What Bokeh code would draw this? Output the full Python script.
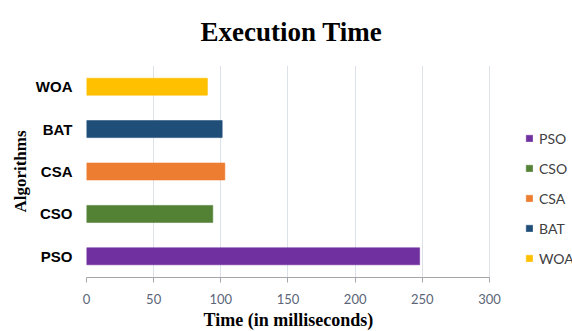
from bokeh.plotting import figure
from bokeh.models import Range1d, FactorRange, FixedTicker, Legend, LegendItem, ColumnDataSource, Title
from bokeh.embed import file_html
from bokeh.resources import INLINE

algorithms = ["PSO", "CSO", "CSA", "BAT", "WOA"]
times_ms = [248, 94, 103, 101, 90]
colors = ["#7030a0", "#548235", "#ed7d31", "#1f4e79", "#ffc000"]
x_ticks = [0, 50, 100, 150, 200, 250, 300]

# frame extends to the right edge so the legend can sit inside it
p = figure(width=572, height=331, output_backend="svg", toolbar_location=None,
           x_range=Range1d(0, 361.8), y_range=FactorRange(factors=algorithms, range_padding=0),
           min_border_left=86, min_border_right=0, min_border_top=65, min_border_bottom=53)
p.outline_line_color = None
p.background_fill_color = "white"
p.border_fill_color = "white"

p.title.text = "Execution Time"
p.title.align = "left"
p.title.offset = 114
p.title.vertical_align = "top"
p.title.text_font = "Liberation Serif"
p.title.text_font_size = "27px"
p.title.text_font_style = "bold"
p.title.text_color = "#000000"
p.title.standoff = 33

renderers = []
for a, t, c in zip(algorithms, times_ms, colors):
    src = ColumnDataSource(dict(y=[a], right=[t]))
    r = p.hbar(y="y", right="right", left=0, height=0.4, source=src,
               fill_color=c, line_color=c, line_alpha=0.6)
    renderers.append((a, r))

legend = Legend(items=[LegendItem(label=a, renderers=[r]) for a, r in renderers],
                location=(439, 9), orientation="vertical",
                glyph_width=8, glyph_height=8, label_standoff=6, spacing=10,
                padding=0, margin=0, border_line_color=None, background_fill_alpha=0,
                label_text_font="Lato", label_text_font_size="14px", label_text_color="#404040",
                label_height=20)
p.add_layout(legend, "center")

xa = p.xaxis[0]
xa.ticker = FixedTicker(ticks=x_ticks)
xa.bounds = (0, 300)
xa.axis_line_color = "#a6a6a6"
xa.major_tick_line_color = "#a6a6a6"
xa.major_tick_out = 5
xa.major_tick_in = 0
xa.minor_tick_line_color = None
xa.major_label_text_font = "Lato"
xa.major_label_text_font_size = "13px"
xa.major_label_text_color = "#5b6577"
xa.major_label_standoff = 11

xlabel = Title(text="Time (in milliseconds)", align="left", offset=117,
               text_font="Liberation Serif", text_font_style="bold",
               text_font_size="18px", text_color="#000000", standoff=3)
p.add_layout(xlabel, "below")

ya = p.yaxis[0]
ya.axis_line_color = None
ya.major_tick_line_color = None
ya.minor_tick_line_color = None
ya.major_label_text_font = "Liberation Sans"
ya.major_label_text_font_style = "bold"
ya.major_label_text_font_size = "15px"
ya.major_label_text_color = "#000000"
ya.major_label_standoff = 8
ya.axis_label = "Algorithms"
ya.axis_label_text_font = "Liberation Serif"
ya.axis_label_text_font_style = "bold"
ya.axis_label_text_font_size = "17px"
ya.axis_label_text_color = "#000000"
ya.axis_label_standoff = 3

p.xgrid.grid_line_color = "#dde1ea"
p.ygrid.grid_line_color = None

open("out.html", "w").write(file_html(p, INLINE))
